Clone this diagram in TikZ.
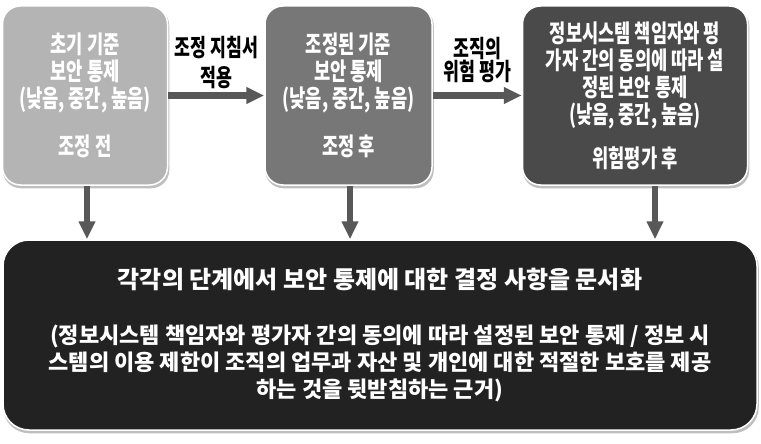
\documentclass[tikz,border=0pt]{standalone}
\usepackage{fontspec}
\setmainfont{Noto Sans CJK KR}
\newfontfamily\krnarrow{Noto Sans CJK KR}[FakeStretch=0.72]
\usetikzlibrary{arrows.meta, backgrounds}
\definecolor{lightstage}{HTML}{B4B4B4}
\definecolor{midstage}{HTML}{777777}
\definecolor{darkstage}{HTML}{4A4A4A}
\definecolor{docfill}{HTML}{222222}
\definecolor{flowgray}{HTML}{585858}
\newcommand\doctitle{\fontsize{24}{27}\selectfont}
\tikzset{
	stagebox/.style={draw=white, line width=1.5pt, rounded corners=18pt, text=white, align=center,
		minimum height=179pt, font=\krnarrow\bfseries\fontsize{24.5}{27}\selectfont}, % the three stages
	docbox/.style={draw=white, line width=1.5pt, rounded corners=26pt, text=white, align=center, fill=docfill,
		font=\bfseries\fontsize{22}{27}\selectfont}, % the documentation box
	boxshadow/.style={fill=black, opacity=0.25}, % soft shadow under the boxes
	flow/.style={draw=flowgray, line width=6.5pt, -{Triangle[length=18pt, width=16pt]}}, % thick grey arrows
	steplabel/.style={align=center, text=black, inner sep=1pt, font=\krnarrow\bfseries\fontsize{24}{30}\selectfont},
}

\begin{document}
\begin{tikzpicture}[x=1pt, y=-1pt]
	\useasboundingbox (0,0) rectangle (761,444);
	\node[stagebox, fill=lightstage, minimum width=165pt] (base) at (85,95.5)
		{초기 기준\\보안 통제\\(낮음, 중간, 높음)\\[21pt]조정 전};
	\node[stagebox, fill=midstage, minimum width=167pt] (tailored) at (348.5,95.5)
		{조정된 기준\\보안 통제\\(낮음, 중간, 높음)\\[21pt]조정 후};
	\node[stagebox, fill=darkstage, minimum width=225pt] (agreed) at (635,95.5)
		{정보시스템 책임자와 평\\가자 간의 동의에 따라 설\\정된 보안 통제\\(낮음, 중간, 높음)\\[17pt]위험평가 후};
	\node[docbox, minimum width=754pt, minimum height=190pt] (doc) at (380,335)
		{\doctitle 각각의 단계에서 보안 통제에 대한 결정 사항을 문서화\\[28pt]
		(정보시스템 책임자와 평가자 간의 동의에 따라 설정된 보안 통제 / 정보 시\\
		스템의 이용 제한이 조직의 업무과 자산 및 개인에 대한 적절한 보호를 제공\\
		하는 것을 뒷받침하는 근거)};
	\begin{pgfonlayer}{background}
		\foreach \b/\r in {base/18pt, tailored/18pt, agreed/18pt, doc/26pt}
			\fill[boxshadow, rounded corners=\r] ([shift={(1pt,-2.5pt)}]\b.south west) rectangle ([shift={(1pt,-2.5pt)}]\b.north east);
	\end{pgfonlayer}
	\draw[flow] (base.east) -- node[steplabel, above=2pt] (guide) {조정 지침서\\적용} (tailored.west);
	\draw[flow] (tailored.east) -- node[steplabel, above=8pt, font=\krnarrow\bfseries\fontsize{24}{23}\selectfont] (risk) {조직의\\위험 평가} (agreed.west);
	\draw[flow] ([xshift=2pt]base.south) -- ([xshift=2pt]base.south |- doc.north);
	\draw[flow] ([xshift=1.5pt]tailored.south) -- ([xshift=1.5pt]tailored.south |- doc.north);
	\draw[flow] ([xshift=20pt]agreed.south) -- ([xshift=20pt]agreed.south |- doc.north);
\end{tikzpicture}
\end{document}
